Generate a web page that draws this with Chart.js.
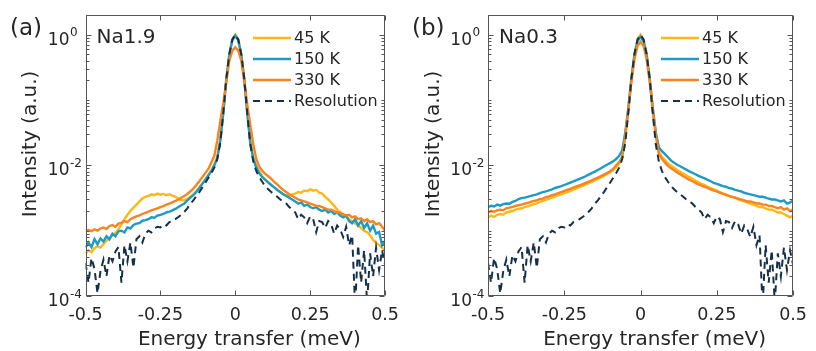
<!DOCTYPE html>
<html><head><meta charset="utf-8">
<script src="https://cdn.jsdelivr.net/npm/chart.js@4/dist/chart.umd.min.js"></script>
<style>
html,body{margin:0;padding:0;background:#fff;}
#wrap{position:relative;width:816px;height:351px;overflow:hidden;background:#fff;}
canvas{position:absolute;top:0;}
</style></head>
<body><div id="wrap">
<canvas id="ca" width="408" height="351" style="left:0"></canvas>
<canvas id="cb" width="408" height="351" style="left:408px"></canvas>
</div>
<script>
// ---------- data ----------
const energy = [
-0.50,-0.49,-0.48,-0.47,-0.46,-0.45,-0.44,-0.43,-0.42,-0.41,
-0.40,-0.39,-0.38,-0.37,-0.36,-0.35,-0.34,-0.33,-0.32,-0.31,
-0.30,-0.29,-0.28,-0.27,-0.26,-0.25,-0.24,-0.23,-0.22,-0.21,
-0.20,-0.19,-0.18,-0.17,-0.16,-0.15,-0.14,-0.13,-0.12,-0.11,
-0.10,-0.09,-0.08,-0.07,-0.06,-0.05,-0.04,-0.03,-0.02,-0.01,
0.00,
0.01,0.02,0.03,0.04,0.05,0.06,0.07,0.08,0.09,0.10,
0.11,0.12,0.13,0.14,0.15,0.16,0.17,0.18,0.19,0.20,
0.21,0.22,0.23,0.24,0.25,0.26,0.27,0.28,0.29,0.30,
0.31,0.32,0.33,0.34,0.35,0.36,0.37,0.38,0.39,0.40,
0.41,0.42,0.43,0.44,0.45,0.46,0.47,0.48,0.49,0.50];

const resolution = [
3.2e-4,1.6e-4,3.8e-4,2.6e-4,1.1e-4,2.4e-4,3.6e-4,2.0e-4,4.2e-4,3.4e-4,
4.8e-4,5.6e-4,1.6e-4,6.0e-4,3.4e-4,6.6e-4,2.7e-4,7.4e-4,8.2e-4,6.6e-4,
9.0e-4,1.0e-3,9.4e-4,1.08e-3,1.15e-3,1.12e-3,1.25e-3,1.2e-3,1.35e-3,1.4e-3,
1.5e-3,1.62e-3,1.75e-3,1.95e-3,2.2e-3,2.6e-3,2.9e-3,3.4e-3,3.9e-3,4.6e-3,
5.4e-3,6.4e-3,7.6e-3,9.2e-3,1.25e-2,0.022,0.064,0.21,0.50,0.84,
1.0,
0.84,0.50,0.21,0.063,0.021,0.0115,0.0082,0.0066,0.0056,0.0048,
0.0043,0.0039,0.0036,0.0033,0.0030,0.0028,0.0026,0.0023,0.0021,0.0019,
0.0015,0.00175,0.0016,0.0013,0.00165,0.0015,0.00095,0.0014,0.00135,0.0011,
0.0014,0.00125,0.0009,0.0012,0.00105,0.0008,0.00115,0.0006,0.00085,0.00007,
0.0006,0.00016,0.0005,0.00008,0.00045,0.0002,0.00055,0.00025,0.0005,0.0003];

const na19_45K = [
4.5e-4,5.0e-4,4.7e-4,5.4e-4,5.8e-4,5.5e-4,6.2e-4,7.0e-4,7.6e-4,8.4e-4,
9.2e-4,1.05e-3,1.25e-3,1.5e-3,1.75e-3,2.0e-3,2.25e-3,2.5e-3,2.8e-3,3.1e-3,
3.3e-3,3.4e-3,3.6e-3,3.5e-3,3.7e-3,3.55e-3,3.65e-3,3.5e-3,3.6e-3,3.45e-3,
3.3e-3,3.1e-3,2.95e-3,2.9e-3,3.05e-3,3.3e-3,3.6e-3,4.0e-3,4.6e-3,5.3e-3,
6.1e-3,7.1e-3,8.4e-3,1.02e-2,1.35e-2,0.025,0.066,0.21,0.50,0.85,
1.0,
0.85,0.50,0.21,0.066,0.024,0.013,0.0098,0.0080,0.0068,0.0061,
0.0055,0.0050,0.0046,0.0042,0.0039,0.0036,0.0035,0.0034,0.0036,0.0037,
0.0039,0.0038,0.0041,0.0040,0.0043,0.0041,0.0042,0.0038,0.0037,0.0033,
0.0030,0.0027,0.0024,0.0021,0.0019,0.0017,0.0016,0.0015,0.0014,0.0013,
0.0012,0.0011,0.0010,0.00095,0.00085,0.00072,0.00065,0.0006,0.00055,0.0005];

const na19_150K = [
5.5e-4,6.6e-4,5.6e-4,7.4e-4,6.2e-4,7.6e-4,6.8e-4,8.2e-4,7.4e-4,9.0e-4,
8.2e-4,9.8e-4,1.0e-3,9.4e-4,1.12e-3,1.08e-3,1.22e-3,1.28e-3,1.3e-3,1.42e-3,
1.45e-3,1.5e-3,1.6e-3,1.58e-3,1.7e-3,1.75e-3,1.8e-3,1.9e-3,1.95e-3,2.05e-3,
2.15e-3,2.3e-3,2.45e-3,2.6e-3,2.9e-3,3.2e-3,3.5e-3,3.9e-3,4.5e-3,5.2e-3,
6.0e-3,7.0e-3,8.2e-3,1.0e-2,1.3e-2,0.024,0.063,0.205,0.49,0.82,
0.97,
0.82,0.49,0.205,0.062,0.022,0.0125,0.0092,0.0076,0.0066,0.0060,
0.0055,0.0050,0.0046,0.0042,0.0039,0.0036,0.0034,0.0032,0.0030,0.0028,
0.0026,0.0027,0.0024,0.0025,0.0023,0.0022,0.0023,0.0021,0.0020,0.0021,
0.0019,0.0020,0.0018,0.0019,0.0017,0.0016,0.0017,0.0014,0.0013,0.0015,
0.0012,0.0014,0.0011,0.0013,0.0010,0.0012,0.0009,0.00095,0.0006,0.0007];

const na19_330K = [
1.0e-3,1.02e-3,9.8e-4,1.05e-3,1.0e-3,1.08e-3,1.12e-3,1.06e-3,1.18e-3,1.22e-3,
1.15e-3,1.28e-3,1.32e-3,1.4e-3,1.35e-3,1.5e-3,1.58e-3,1.65e-3,1.72e-3,1.8e-3,
1.88e-3,1.95e-3,2.05e-3,2.12e-3,2.2e-3,2.3e-3,2.38e-3,2.5e-3,2.6e-3,2.72e-3,
2.85e-3,3.0e-3,3.2e-3,3.4e-3,3.65e-3,4.0e-3,4.4e-3,5.0e-3,5.7e-3,6.6e-3,
7.6e-3,8.8e-3,1.1e-2,1.4e-2,0.024,0.048,0.09,0.19,0.40,0.57,
0.64,
0.57,0.40,0.19,0.085,0.042,0.021,0.0125,0.0095,0.0082,0.0074,
0.0068,0.0062,0.0056,0.0051,0.0046,0.0042,0.0039,0.0036,0.0034,0.0032,
0.0030,0.0029,0.0028,0.0027,0.0026,0.0025,0.0024,0.0024,0.0023,0.0022,
0.0021,0.0021,0.0020,0.0019,0.0019,0.0018,0.0017,0.00175,0.0016,0.00165,
0.0015,0.00155,0.0014,0.0015,0.00135,0.0014,0.00125,0.0013,0.00115,0.0010];

const na03_45K = [
1.6e-3,1.7e-3,1.62e-3,1.75e-3,1.8e-3,1.76e-3,1.9e-3,1.95e-3,2.0e-3,2.1e-3,
2.15e-3,2.2e-3,2.3e-3,2.35e-3,2.45e-3,2.55e-3,2.62e-3,2.75e-3,2.85e-3,2.95e-3,
3.1e-3,3.2e-3,3.35e-3,3.5e-3,3.6e-3,3.75e-3,3.9e-3,4.05e-3,4.25e-3,4.45e-3,
4.65e-3,4.85e-3,5.1e-3,5.35e-3,5.6e-3,5.9e-3,6.2e-3,6.55e-3,6.9e-3,7.35e-3,
7.85e-3,8.5e-3,9.3e-3,1.07e-2,1.35e-2,0.029,0.075,0.22,0.51,0.85,
1.0,
0.85,0.51,0.22,0.075,0.030,0.016,0.0135,0.0120,0.0108,0.0099,
0.0092,0.0085,0.0080,0.0075,0.0070,0.0066,0.0062,0.0058,0.0055,0.0052,
0.0050,0.0047,0.0045,0.0043,0.0041,0.0039,0.0037,0.0036,0.0034,0.0033,
0.0032,0.0030,0.0029,0.0028,0.0027,0.0026,0.0025,0.0024,0.0023,0.0023,
0.0022,0.0021,0.0021,0.0020,0.0019,0.0019,0.0018,0.0017,0.0016,0.0017];

const na03_150K = [
2.3e-3,2.4e-3,2.35e-3,2.5e-3,2.42e-3,2.55e-3,2.6e-3,2.58e-3,2.75e-3,2.85e-3,
3.05e-3,3.15e-3,3.2e-3,3.3e-3,3.4e-3,3.5e-3,3.6e-3,3.75e-3,3.9e-3,4.0e-3,
4.15e-3,4.3e-3,4.5e-3,4.65e-3,4.8e-3,5.0e-3,5.2e-3,5.45e-3,5.7e-3,5.95e-3,
6.2e-3,6.5e-3,6.8e-3,7.2e-3,7.6e-3,8.0e-3,8.5e-3,9.0e-3,9.6e-3,1.02e-2,
1.08e-2,1.15e-2,1.25e-2,1.4e-2,1.7e-2,0.032,0.075,0.21,0.48,0.79,
0.93,
0.79,0.48,0.21,0.075,0.032,0.019,0.0165,0.0148,0.0133,0.0118,
0.0110,0.0102,0.0097,0.0091,0.0086,0.0081,0.0077,0.0073,0.0069,0.0066,
0.0063,0.0060,0.0057,0.0054,0.0052,0.0050,0.0048,0.0047,0.0045,0.0044,
0.0042,0.0041,0.0040,0.0038,0.0037,0.0036,0.0035,0.0034,0.0033,0.0033,
0.0032,0.0031,0.0030,0.0030,0.0029,0.0028,0.0029,0.0026,0.0027,0.0029];

const na03_330K = [
1.9e-3,2.0e-3,1.95e-3,2.05e-3,2.1e-3,2.05e-3,2.2e-3,2.25e-3,2.3e-3,2.4e-3,
2.45e-3,2.5e-3,2.6e-3,2.65e-3,2.75e-3,2.85e-3,2.9e-3,3.05e-3,3.1e-3,3.25e-3,
3.35e-3,3.5e-3,3.6e-3,3.75e-3,3.9e-3,4.05e-3,4.2e-3,4.35e-3,4.55e-3,4.75e-3,
4.95e-3,5.15e-3,5.4e-3,5.65e-3,5.9e-3,6.2e-3,6.5e-3,6.85e-3,7.2e-3,7.6e-3,
8.1e-3,8.8e-3,1.0e-2,1.12e-2,1.35e-2,0.028,0.070,0.19,0.42,0.67,
0.78,
0.67,0.42,0.19,0.070,0.029,0.015,0.0126,0.0110,0.0098,0.0090,
0.0084,0.0078,0.0073,0.0068,0.0064,0.0060,0.0057,0.0054,0.0051,0.0049,
0.0047,0.0045,0.0043,0.0041,0.0040,0.0038,0.0037,0.0035,0.0034,0.0033,
0.0032,0.0031,0.0030,0.0029,0.0028,0.0028,0.0027,0.0026,0.0026,0.0025,
0.0025,0.0024,0.0024,0.0023,0.0022,0.0023,0.0021,0.0022,0.0020,0.0021];

const seriesLabels = ['45 K', '150 K', '330 K', 'Resolution'];
const xTickValues = [-0.5, -0.25, 0, 0.25, 0.5];
const xTickLabels = ['-0.5', '-0.25', '0', '0.25', '0.5'];
const yTickValues = [1e-4, 1e-2, 1];
const yTickBase = '10';
const yTickExponents = ['-4', '-2', '0'];

// ---------- styles ----------
const seriesColors = ['#FDB813', '#1E9AC5', '#F7841E', '#15304A'];
const FONT = '"DejaVu Sans", Verdana, sans-serif';
const TEXT = '#262626';
Chart.defaults.font.family = FONT;

const framePlugin = {
  id: 'frame',
  afterDatasetsDraw(chart, args, opts) {
    const {ctx, chartArea: a, scales: {x, y}} = chart;
    ctx.save();
    // axes box and ticks
    ctx.strokeStyle = '#555';
    ctx.lineWidth = 1;
    ctx.setLineDash([]);
    const L = Math.round(a.left) + 0.5, R = Math.round(a.right) - 0.5;
    const T = Math.round(a.top) + 0.5, B = Math.round(a.bottom) - 0.5;
    ctx.beginPath();
    ctx.rect(L, T, R - L, B - T);
    xTickValues.forEach(v => {
      const px = Math.round(x.getPixelForValue(v)) + 0.5;
      ctx.moveTo(px, B); ctx.lineTo(px, B - 5);
      ctx.moveTo(px, T); ctx.lineTo(px, T + 5);
    });
    for (let d = -4; d <= 0; d++) {
      for (let k = 1; k <= 9; k++) {
        const v = k * Math.pow(10, d);
        if (v < 1e-4 || v > y.max) continue;
        const len = (k === 1 && d % 2 === 0) ? 5 : 3;
        const py = Math.round(y.getPixelForValue(v)) + 0.5;
        ctx.moveTo(L, py); ctx.lineTo(L + len, py);
        ctx.moveTo(R, py); ctx.lineTo(R - len, py);
      }
    }
    ctx.stroke();

    // y tick labels: base 10 with raised exponent
    ctx.fillStyle = TEXT;
    ctx.textBaseline = 'alphabetic';
    yTickValues.forEach((v, i) => {
      const py = y.getPixelForValue(v);
      ctx.font = '17px ' + FONT;
      ctx.textAlign = 'right';
      ctx.fillText(yTickBase, a.left - 16, py + 10);
      ctx.font = '12px ' + FONT;
      ctx.textAlign = 'left';
      ctx.fillText(yTickExponents[i], a.left - 15.5, py + 1.5);
    });

    // legend
    ctx.font = '16px ' + FONT;
    const ds = chart.data.datasets;
    let maxW = 0;
    ds.forEach(d => { maxW = Math.max(maxW, ctx.measureText(d.label).width); });
    const tx = a.right - 7.5 - maxW;
    ds.forEach((d, i) => {
      const yy = a.top + 23 + i * 21;
      ctx.strokeStyle = d.borderColor;
      ctx.lineWidth = d.borderWidth;
      ctx.setLineDash(d.borderDash || []);
      ctx.beginPath();
      ctx.moveTo(tx - 41, yy); ctx.lineTo(tx - 3, yy);
      ctx.stroke();
      ctx.setLineDash([]);
      ctx.fillStyle = TEXT;
      ctx.textBaseline = 'middle';
      ctx.textAlign = 'left';
      ctx.fillText(d.label, tx, yy + 1);
    });

    // panel tag and sample name
    ctx.fillStyle = TEXT;
    ctx.textBaseline = 'alphabetic';
    ctx.textAlign = 'left';
    ctx.font = '23px ' + FONT;
    ctx.fillText(opts.tag, opts.tagX, 35);
    ctx.font = '20px ' + FONT;
    ctx.fillText(opts.name, a.left + 11, 43);

    // axis titles
    ctx.font = '20px ' + FONT;
    ctx.textAlign = 'center';
    ctx.textBaseline = 'middle';
    ctx.fillText('Energy transfer (meV)', (a.left + a.right) / 2 + 14, 340);
    ctx.save();
    ctx.translate(a.left - 54.5, 144);
    ctx.rotate(-Math.PI / 2);
    ctx.fillText('Intensity (a.u.)', 0, 0);
    ctx.restore();
    ctx.restore();
  }
};

function makeChart(id, series, conf) {
  const order = [3, 2, 1, 0];
  return new Chart(document.getElementById(id), {
    type: 'line',
    data: {
      datasets: series.map((s, i) => ({
        label: seriesLabels[i],
        data: energy.map((e, j) => ({x: e, y: s[j]})),
        borderColor: seriesColors[i],
        backgroundColor: seriesColors[i],
        borderWidth: i === 3 ? 2 : 2.4,
        borderDash: i === 3 ? [7, 5] : [],
        pointRadius: 0,
        tension: 0,
        fill: false,
        order: order[i]
      }))
    },
    options: {
      responsive: false,
      animation: false,
      devicePixelRatio: 1,
      layout: {padding: {left: 0, right: conf.padRight, top: 15, bottom: 0}},
      plugins: {legend: {display: false}, tooltip: {enabled: false}, frame: conf},
      scales: {
        x: {
          type: 'linear', min: -0.5, max: 0.5,
          afterBuildTicks: s => { s.ticks = xTickValues.map(v => ({value: v})); },
          afterFit: s => { s.height = 55; },
          grid: {display: false, drawTicks: false},
          border: {display: false},
          ticks: {padding: 9, color: TEXT, font: {size: 17.5}, maxRotation: 0, autoSkip: false,
                  callback: (v, i) => xTickLabels[i]}
        },
        y: {
          type: 'logarithmic', min: 1e-4, max: 2,
          afterBuildTicks: s => { s.ticks = yTickValues.map(v => ({value: v})); },
          afterFit: s => { s.width = conf.yWidth; },
          grid: {display: false, drawTicks: false},
          border: {display: false},
          ticks: {display: false}
        }
      }
    },
    plugins: [framePlugin]
  });
}

makeChart('ca', [na19_45K, na19_150K, na19_330K, resolution],
  {tag: '(a)', tagX: 10, name: 'Na1.9', padRight: 13.5, yWidth: 85.5});
makeChart('cb', [na03_45K, na03_150K, na03_330K, resolution],
  {tag: '(b)', tagX: 4, name: 'Na0.3', padRight: 18, yWidth: 80});
</script>
</body></html>
